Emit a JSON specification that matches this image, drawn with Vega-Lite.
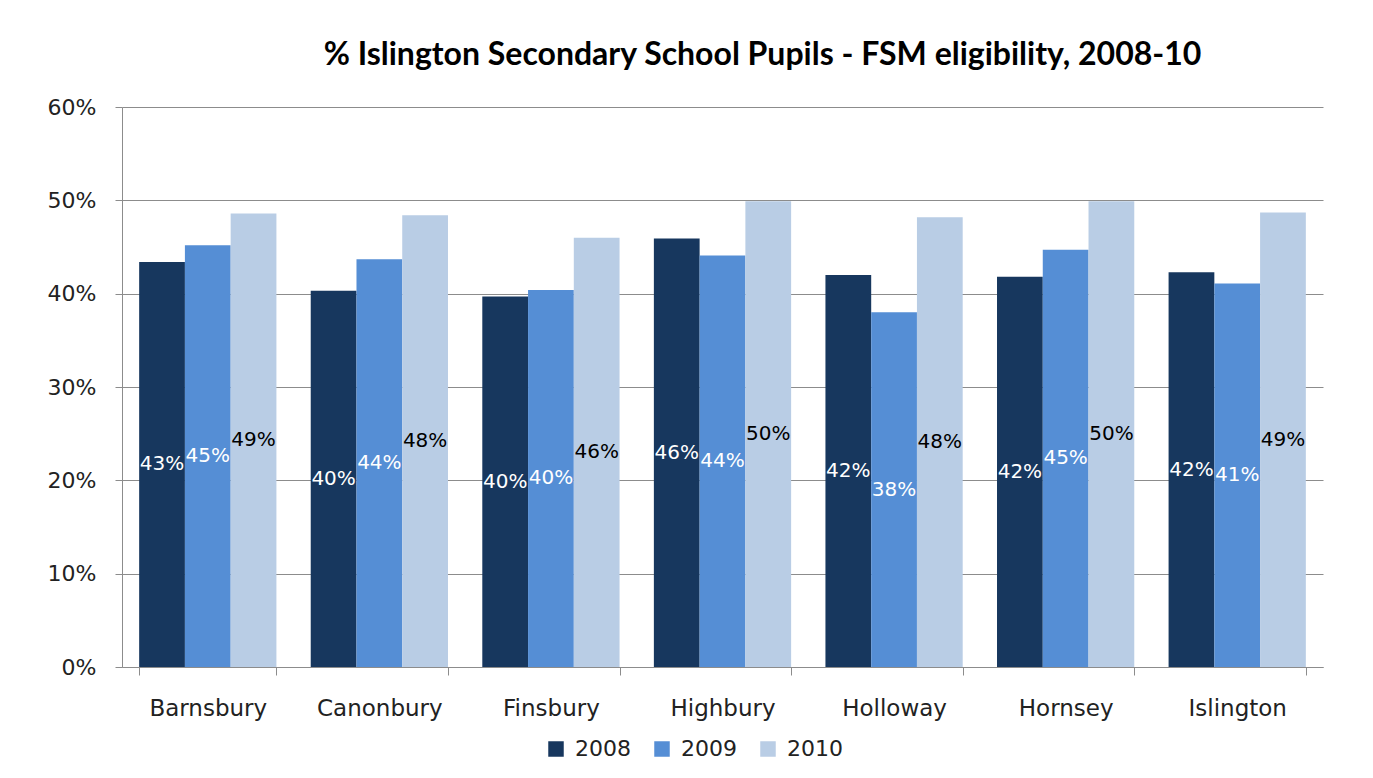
{
  "$schema": "https://vega.github.io/schema/vega-lite/v6.json",
  "width": 1201,
  "height": 560,
  "autosize": {"type": "none"},
  "padding": {"left": 122, "top": 107, "right": 50, "bottom": 111},
  "background": "white",
  "title": {
    "text": "% Islington Secondary School Pupils - FSM eligibility, 2008-10",
    "font": "Lato",
    "fontWeight": "bold",
    "fontSize": 32,
    "color": "#000000",
    "anchor": "middle",
    "dx": 40,
    "offset": 24
  },
  "data": {
    "values": [
      {"area": "Barnsbury", "year": "2008", "value": 0.434},
      {"area": "Barnsbury", "year": "2009", "value": 0.452},
      {"area": "Barnsbury", "year": "2010", "value": 0.486},
      {"area": "Canonbury", "year": "2008", "value": 0.403},
      {"area": "Canonbury", "year": "2009", "value": 0.437},
      {"area": "Canonbury", "year": "2010", "value": 0.484},
      {"area": "Finsbury", "year": "2008", "value": 0.397},
      {"area": "Finsbury", "year": "2009", "value": 0.404},
      {"area": "Finsbury", "year": "2010", "value": 0.460},
      {"area": "Highbury", "year": "2008", "value": 0.459},
      {"area": "Highbury", "year": "2009", "value": 0.441},
      {"area": "Highbury", "year": "2010", "value": 0.499},
      {"area": "Holloway", "year": "2008", "value": 0.420},
      {"area": "Holloway", "year": "2009", "value": 0.380},
      {"area": "Holloway", "year": "2010", "value": 0.482},
      {"area": "Hornsey", "year": "2008", "value": 0.418},
      {"area": "Hornsey", "year": "2009", "value": 0.447},
      {"area": "Hornsey", "year": "2010", "value": 0.499},
      {"area": "Islington", "year": "2008", "value": 0.423},
      {"area": "Islington", "year": "2009", "value": 0.411},
      {"area": "Islington", "year": "2010", "value": 0.487}
    ]
  },
  "encoding": {
    "x": {
      "field": "area",
      "type": "nominal",
      "sort": null,
      "scale": {"paddingInner": 0.2, "paddingOuter": 0.1},
      "axis": {
        "title": null,
        "labelAngle": 0,
        "labelFont": "DejaVu Sans",
        "labelFontSize": 23,
        "labelColor": "#222222",
        "labelPadding": 22,
        "tickBand": "extent",
        "tickSize": 8,
        "tickColor": "#8c8c8c",
        "domainColor": "#8c8c8c",
        "grid": false
      }
    },
    "xOffset": {"field": "year", "type": "nominal"}
  },
  "layer": [
    {
      "mark": {"type": "bar"},
      "encoding": {
        "y": {
          "field": "value",
          "type": "quantitative",
          "scale": {"domain": [0, 0.6], "nice": false},
          "axis": {
            "title": null,
            "format": ".0%",
            "values": [0, 0.1, 0.2, 0.3, 0.4, 0.5, 0.6],
            "labelFont": "DejaVu Sans",
            "labelFontSize": 22,
            "labelColor": "#222222",
            "labelPadding": 19,
            "tickSize": 7,
            "tickColor": "#8c8c8c",
            "domainColor": "#8c8c8c",
            "grid": true,
            "gridColor": "#8c8c8c",
            "gridWidth": 1
          }
        },
        "color": {
          "field": "year",
          "type": "nominal",
          "scale": {"domain": ["2008", "2009", "2010"], "range": ["#17375E", "#558ED5", "#B9CDE5"]},
          "legend": {
            "title": null,
            "orient": "none",
            "direction": "horizontal",
            "legendX": 423,
            "legendY": 631,
            "symbolType": "square",
            "symbolSize": 240,
            "symbolStrokeWidth": 0,
            "labelFont": "DejaVu Sans",
            "labelFontSize": 22,
            "labelColor": "#222222",
            "labelOffset": 8,
            "columnPadding": 20
          }
        }
      }
    },
    {
      "transform": [{"calculate": "datum.value / 2", "as": "mid"}],
      "mark": {"type": "text", "baseline": "middle", "align": "center", "font": "DejaVu Sans", "fontSize": 20},
      "encoding": {
        "y": {"field": "mid", "type": "quantitative", "scale": {"domain": [0, 0.6], "nice": false}},
        "text": {"field": "value", "type": "quantitative", "format": ".0%"},
        "color": {
          "condition": {"test": "datum.year == '2010'", "value": "#000000"},
          "value": "#ffffff"
        }
      }
    }
  ],
  "config": {
    "view": {"stroke": null}
  }
}
